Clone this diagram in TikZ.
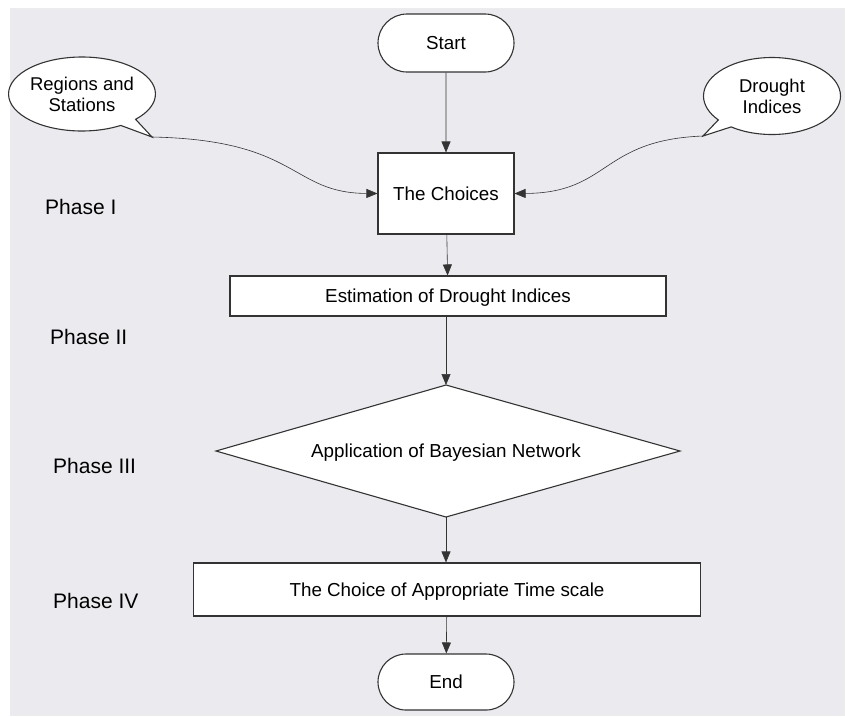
\documentclass[tikz,border=0pt]{standalone}
\usepackage{fontspec}
\setmainfont{Liberation Sans}
\usetikzlibrary{shapes.geometric,shapes.callouts,shapes.misc,arrows.meta}
\definecolor{bg}{HTML}{EBEAEF}
\definecolor{ln}{HTML}{333333}
\begin{document}
\begin{tikzpicture}[x=1pt,y=-1pt,
  base/.style={draw=ln,line width=1.1pt,fill=white,font=\fontsize{18.8}{21.5}\selectfont,inner sep=0pt,text height=13.5pt,text depth=0pt},
  term/.style={base,rounded rectangle,minimum width=136pt,minimum height=58pt},
  box/.style={base,rectangle},
  bubble/.style={draw=ln,line width=1.1pt,fill=white,inner sep=0pt,ellipse callout,align=center,callout pointer width=14pt,font=\fontsize{18.5}{21}\selectfont},
  phase/.style={font=\fontsize{21}{24}\selectfont,anchor=west,inner sep=0pt},
  conn/.style={draw=ln,line width=0.6pt,-{Triangle[length=11pt,width=9pt]}}
]
\useasboundingbox (0,0) rectangle (845,716);
\fill[bg] (10,8) rectangle (845,716);
\draw[white!85!gray,line width=0.6pt] (10,8) rectangle (844,715);

\node[term] (start) at (446,43) {Start};
\node[box,minimum width=136pt,minimum height=81pt] (choices) at (446,193.5) {The Choices};
\node[box,minimum width=436pt,minimum height=40pt] (est) at (448,296) {Estimation of Drought Indices};
\draw[ln,line width=1.1pt,fill=white] (216,451) coordinate (dl) -- (446,385) coordinate (dt) -- (680,451) coordinate (dr) -- (446,517) coordinate (db) -- cycle;
\node[font=\fontsize{18.8}{21.5}\selectfont,text height=13.5pt,text depth=0pt,inner sep=0pt] (app) at (446,451) {Application of Bayesian Network};
\node[box,minimum width=507pt,minimum height=53pt] (time) at (447,589.5) {The Choice of Appropriate Time scale};
\node[term,minimum height=56pt] (end) at (446,682) {End};

\coordinate (lp) at (152,137);
\coordinate (rp) at (703,136);
\node[bubble,minimum width=136pt,minimum height=74pt,callout absolute pointer=(lp)] (regions) at (82,94) {Regions and\\Stations};
\node[bubble,minimum width=137pt,minimum height=77pt,callout absolute pointer=(rp)] (indices) at (772,96) {Drought\\Indices};

\node[phase] (p1) at (45,207) {Phase I};
\node[phase] (p2) at (50,337) {Phase II};
\node[phase] (p3) at (53,466) {Phase III};
\node[phase] (p4) at (53,601) {Phase IV};

\draw[conn] (start) -- (choices);
\draw[conn] (choices) -- (est);
\draw[conn] (est.south -| dt) -- (dt);
\draw[conn] (db) -- (time.north -| db);
\draw[conn] (time) -- (end);
\draw[conn] (lp) .. controls (300,140) and (290,193) .. (choices.west);
\draw[conn] (rp) .. controls (600,140) and (610,193) .. (choices.east);
\end{tikzpicture}
\end{document}
